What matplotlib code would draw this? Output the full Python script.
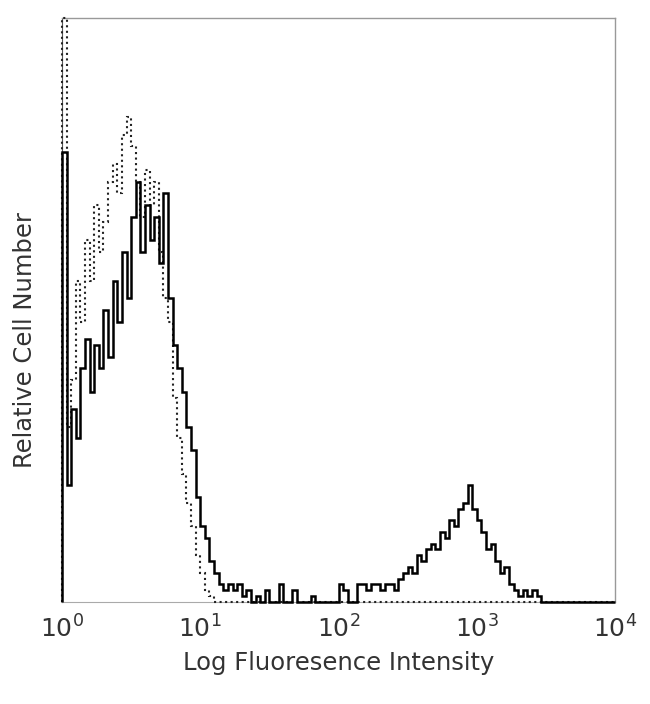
#!/usr/bin/env python3
import matplotlib
matplotlib.use("Agg")
import matplotlib.pyplot as plt
import numpy as np

plt.rcParams['font.family'] = ['DejaVu Sans']
plt.rcParams['mathtext.default'] = 'regular'

# 30 channels per decade, 10^0 .. 10^4
n_per_decade = 30
edges = 10 ** (np.arange(4 * n_per_decade + 1) / n_per_decade)

# stained sample (solid line)
stained = [77, 20, 33, 28, 40, 45, 36, 44, 40, 50,
           42, 55, 48, 60, 52, 66, 72, 60, 68, 62,
           66, 58, 70, 52, 44, 40, 36, 30, 26, 18,
           13, 11, 7, 5, 3, 2, 3, 2, 3, 1,
           2, 0, 1, 0, 2, 0, 0, 3, 0, 0,
           2, 0, 0, 0, 1, 0, 0, 0, 0, 0,
           3, 2, 0, 0, 3, 3, 2, 3, 3, 2,
           3, 3, 2, 4, 5, 6, 5, 8, 7, 9,
           10, 9, 12, 11, 14, 13, 16, 17, 20, 16,
           14, 12, 9, 10, 7, 5, 6, 3, 2, 1,
           2, 1, 2, 1, 0, 0, 0, 0, 0, 0,
           0, 0, 0, 0, 0, 0, 0, 0, 0, 0]

# isotype control (dotted line)
isotype = [100, 30, 38, 55, 48, 62, 55, 68, 60, 65,
           72, 75, 70, 80, 83, 78, 72, 66, 74, 68,
           72, 60, 52, 48, 35, 28, 22, 17, 13, 8,
           5, 2, 1, 0, 0, 0, 0, 0, 0, 0,
           0, 0, 0, 0, 0, 0, 0, 0, 0, 0,
           0, 0, 0, 0, 0, 0, 0, 0, 0, 0,
           0, 0, 0, 0, 0, 0, 0, 0, 0, 0,
           0, 0, 0, 0, 0, 0, 0, 0, 0, 0,
           0, 0, 0, 0, 0, 0, 0, 0, 0, 0,
           0, 0, 0, 0, 0, 0, 0, 0, 0, 0,
           0, 0, 0, 0, 0, 0, 0, 0, 0, 0,
           0, 0, 0, 0, 0, 0, 0, 0, 0, 0]

tick_vals = [1, 10, 100, 1000, 10000]
tick_labels = ["$10^{0}$", "$10^{1}$", "$10^{2}$", "$10^{3}$", "$10^{4}$"]

fig = plt.figure(figsize=(6.5, 7.04), dpi=100)
ax = fig.add_axes([0.0954, 0.1449, 0.8508, 0.8295])

ax.stairs(isotype, edges, color="#222222", linestyle=":", linewidth=1.5, clip_on=False, zorder=3)
ax.stairs(stained, edges, color="black", linewidth=1.8, clip_on=False, zorder=4)

ax.set_xscale("log")
ax.set_xlim(1, 10000)
ax.set_ylim(0, 100)
ax.set_xticks(tick_vals)
ax.set_xticklabels(tick_labels, fontsize=18, color="#333333")
ax.minorticks_off()
ax.tick_params(axis="x", length=0, pad=10)
ax.set_yticks([])

for side in ("top", "right"):
    ax.spines[side].set_color("#999999")
    ax.spines[side].set_linewidth(1.0)
ax.spines["bottom"].set_color("#aaaaaa")
ax.spines["bottom"].set_linewidth(0.8)
ax.spines["left"].set_color("#555555")

ax.set_xlabel("Log Fluoresence Intensity", fontsize=17.5, color="#333333", labelpad=6)
ax.set_ylabel("Relative Cell Number", fontsize=17.5, color="#333333")
ax.yaxis.set_label_coords(-0.046, 0.449)

plt.savefig("out.png", dpi=100)
